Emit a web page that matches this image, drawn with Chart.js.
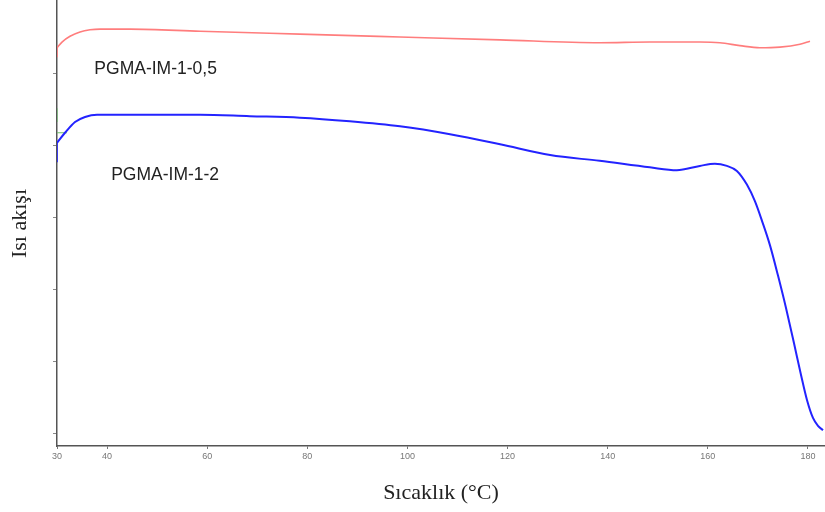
<!DOCTYPE html>
<html>
<head>
<meta charset="utf-8">
<script src="https://cdn.jsdelivr.net/npm/chart.js@4/dist/chart.umd.min.js"></script>
<style>
  body { margin: 0; background: #fff; }
  #wrap { width: 825px; height: 512px; }
</style>
</head>
<body>
<div id="wrap"><canvas id="dscChart"></canvas></div>
<script>
// temperature (°C) and heat flow (arbitrary units)
const red_x = [30, 31, 32.6, 34.6, 36.6, 38.6, 44.6, 58.6, 78.5, 98.5, 118.5, 138.4, 148.4, 158.4, 162.4, 166.4, 170.4, 174.4, 178.4, 180.4];
const red_y = [5.35, 5.43, 5.51, 5.57, 5.60, 5.61, 5.61, 5.58, 5.54, 5.50, 5.46, 5.42, 5.43, 5.43, 5.42, 5.38, 5.35, 5.36, 5.40, 5.44];

const blue_x = [30, 31.6, 33.6, 35.6, 38, 48.6, 58.6, 68.5, 78.5, 88.5, 98.5, 108.5, 118.5, 128.5, 138.4, 148.4, 153.8, 158.4, 161.4, 163.8, 165.8, 167.8, 169.4, 170.8, 172.4, 174.0, 175.6, 177.2, 178.6, 179.8, 181.0, 182.0, 183.0];
const blue_y = [4.03, 4.17, 4.32, 4.39, 4.42, 4.42, 4.42, 4.40, 4.38, 4.33, 4.26, 4.15, 4.01, 3.86, 3.78, 3.69, 3.65, 3.71, 3.74, 3.71, 3.64, 3.45, 3.22, 2.95, 2.61, 2.19, 1.74, 1.25, 0.81, 0.46, 0.21, 0.10, 0.04];

// short marks on the axis at the start of each run
const red_mark_y = [5.22, 5.35];
const blue_mark_y = [3.76, 4.03];
const green_x = [30, 30, 30, 30, 32];
const green_y = [4.51, 4.32, null, 4.17, 4.17];

const x_ticks = [30, 40, 60, 80, 100, 120, 140, 160, 180];
const y_ticks = [0, 1, 2, 3, 4, 5];

const curve_labels = [
  { text: 'PGMA-IM-1-0,5', x: 49.7, y: 5.05 },
  { text: 'PGMA-IM-1-2', x: 51.6, y: 3.58 }
];

function toPoints(xs, ys) {
  return xs.map((x, i) => ({ x: x, y: ys[i] }));
}

const labelPlugin = {
  id: 'curveLabels',
  afterDatasetsDraw(chart) {
    const c = chart.ctx;
    const xs = chart.scales.x;
    const ys = chart.scales.y;
    c.save();
    c.font = '17.5px "Liberation Sans", Arial, sans-serif';
    c.fillStyle = '#222';
    c.textAlign = 'center';
    c.textBaseline = 'middle';
    curve_labels.forEach(l => {
      c.fillText(l.text, xs.getPixelForValue(l.x), ys.getPixelForValue(l.y));
    });
    c.restore();
  }
};

const ctx = document.getElementById('dscChart').getContext('2d');
const dscChart = new Chart(ctx, {
  type: 'line',
  data: {
    datasets: [
      {
        label: 'PGMA-IM-1-0,5',
        data: toPoints(red_x, red_y),
        borderColor: 'rgb(255, 125, 125)',
        borderWidth: 1.6,
        pointRadius: 0,
        cubicInterpolationMode: 'monotone'
      },
      {
        label: 'PGMA-IM-1-2',
        data: toPoints(blue_x, blue_y),
        borderColor: 'rgb(35, 35, 255)',
        borderWidth: 2,
        pointRadius: 0,
        cubicInterpolationMode: 'monotone'
      },
      {
        label: 'red mark',
        data: toPoints([30, 30], red_mark_y),
        borderColor: 'rgb(255, 125, 125)',
        borderWidth: 1.6,
        pointRadius: 0
      },
      {
        label: 'blue mark',
        data: toPoints([30, 30], blue_mark_y),
        borderColor: 'rgb(35, 35, 255)',
        borderWidth: 1.6,
        pointRadius: 0
      },
      {
        label: 'green mark',
        data: toPoints(green_x, green_y),
        borderColor: 'rgb(110, 190, 110)',
        borderWidth: 1.2,
        pointRadius: 0,
        spanGaps: false
      }
    ]
  },
  options: {
    responsive: true,
    maintainAspectRatio: false,
    animation: false,
    layout: { padding: { top: 1, right: 0, bottom: 0, left: 0 } },
    plugins: {
      legend: { display: false },
      tooltip: { enabled: false }
    },
    scales: {
      x: {
        type: 'linear',
        min: 30,
        max: 183.4,
        afterBuildTicks: s => { s.ticks = x_ticks.map(v => ({ value: v })); },
        afterFit: s => { s.height = 66; },
        grid: { drawOnChartArea: false, tickLength: 3, color: '#777' },
        border: { color: '#555', width: 1.5 },
        ticks: {
          font: { family: '"Liberation Sans", Arial, sans-serif', size: 9 },
          color: '#777',
          padding: 2,
          maxRotation: 0
        },
        title: {
          display: true,
          text: 'Sıcaklık (°C)',
          font: { family: '"Liberation Serif", "Times New Roman", serif', size: 22 },
          color: '#222',
          padding: { top: 0, bottom: 6 }
        }
      },
      y: {
        type: 'linear',
        min: -0.18,
        max: 6.0,
        afterBuildTicks: s => { s.ticks = y_ticks.map(v => ({ value: v })); },
        afterFit: s => { s.width = 57; },
        grid: { drawOnChartArea: false, tickLength: 4, color: '#888' },
        border: { color: '#555', width: 1.5 },
        ticks: { display: false },
        title: {
          display: true,
          text: 'Isı akışı',
          font: { family: '"Liberation Serif", "Times New Roman", serif', size: 22 },
          color: '#222',
          padding: { top: 7, bottom: 0 }
        }
      }
    }
  },
  plugins: [labelPlugin]
});
</script>
</body>
</html>
